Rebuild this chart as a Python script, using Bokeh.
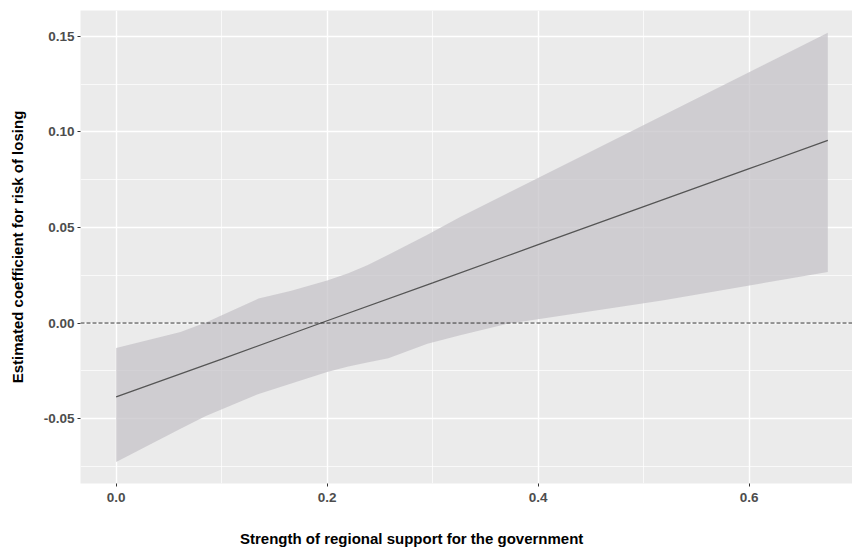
from bokeh.plotting import figure
from bokeh.models import FixedTicker, Range1d, Span, Div
from bokeh.layouts import column
from bokeh.embed import file_html
from bokeh.resources import INLINE

# ---- data ----
x_fit = [0.0, 0.1, 0.2, 0.3, 0.4, 0.5, 0.6, 0.6745]
y_fit = [-0.0387, -0.0189, 0.0012, 0.0210, 0.0410, 0.0609, 0.0808, 0.0956]

x_band = [0.0, 0.061, 0.085, 0.135, 0.166, 0.2, 0.22, 0.238, 0.258, 0.295,
          0.326, 0.37, 0.45, 0.519, 0.6745]
band_upper = [-0.0131, -0.0047, 0.0003, 0.0128, 0.0169, 0.0223, 0.0260, 0.0302,
              0.0358, 0.0462, 0.0555, 0.0677, 0.0898, 0.1089, 0.1519]
band_lower = [-0.0727, -0.0554, -0.0487, -0.0371, -0.0316, -0.0256, -0.0227,
              -0.0207, -0.0184, -0.0108, -0.0064, -0.0005, 0.0062, 0.0119, 0.0267]

x_ticks = [0.0, 0.2, 0.4, 0.6]
x_minor = [0.1, 0.3, 0.5]
y_ticks = [-0.05, 0.0, 0.05, 0.10, 0.15]
y_minor = [-0.075, -0.025, 0.025, 0.075, 0.125]
y_tick_labels = {-0.05: "-0.05", 0.0: "0.00", 0.05: "0.05", 0.10: "0.10", 0.15: "0.15"}
x_tick_labels = {0.0: "0.0", 0.2: "0.2", 0.4: "0.4", 0.6: "0.6"}

x_title = "Strength of regional support for the government"
y_title = "Estimated coefficient for risk of losing"

FONT = "Liberation Sans"

p = figure(width=852, height=531, output_backend="svg", toolbar_location=None,
           x_range=Range1d(-0.0338, 0.6979), y_range=Range1d(-0.0840, 0.1636),
           min_border_left=80, min_border_right=0, min_border_top=10,
           min_border_bottom=48)

p.background_fill_color = "#ebebeb"
p.border_fill_color = "white"
p.outline_line_color = None

# grids
p.xaxis.ticker = FixedTicker(ticks=x_ticks, minor_ticks=x_minor)
p.yaxis.ticker = FixedTicker(ticks=y_ticks, minor_ticks=y_minor)
for g in (p.xgrid, p.ygrid):
    g.grid_line_color = "white"
    g.grid_line_width = 1.4
    g.minor_grid_line_color = "white"
    g.minor_grid_line_width = 0.7

# axes
for ax in (p.xaxis, p.yaxis):
    ax.axis_line_color = None
    ax.major_tick_line_color = "#333333"
    ax.major_tick_line_width = 1
    ax.major_tick_out = 3
    ax.major_tick_in = 0
    ax.minor_tick_line_color = None
    ax.major_label_text_font = FONT
    ax.major_label_text_font_style = "bold"
    ax.major_label_text_font_size = "13.5px"
    ax.major_label_text_color = "#4d4d4d"

p.xaxis.major_label_standoff = 5
p.yaxis.major_label_standoff = 2

p.xaxis.major_label_overrides = x_tick_labels
p.yaxis.major_label_overrides = y_tick_labels

p.yaxis.axis_label = y_title
p.yaxis.axis_label_text_font = FONT
p.yaxis.axis_label_text_font_style = "bold"
p.yaxis.axis_label_text_font_size = "15px"
p.yaxis.axis_label_text_color = "black"
p.yaxis.axis_label_standoff = 15

# band and line
p.varea(x=x_band, y1=band_lower, y2=band_upper, fill_color="#c5c3c8", fill_alpha=0.75)
p.line(x=x_fit, y=y_fit, line_color="#555555", line_width=1.3)

zero = Span(location=0, dimension="width", line_color="#333333", line_width=1,
            line_dash="4 2")
p.add_layout(zero)

# x-axis title below the chart, left-offset as in the reference
xt = Div(text=x_title, width=600, height=16, margin=(0, 0, 0, 240),
         styles={"font-family": FONT, "font-weight": "bold", "font-size": "15px",
                 "color": "black", "line-height": "16px"})

layout = column(p, xt, spacing=0)

open("out.html", "w").write(file_html(layout, INLINE))
